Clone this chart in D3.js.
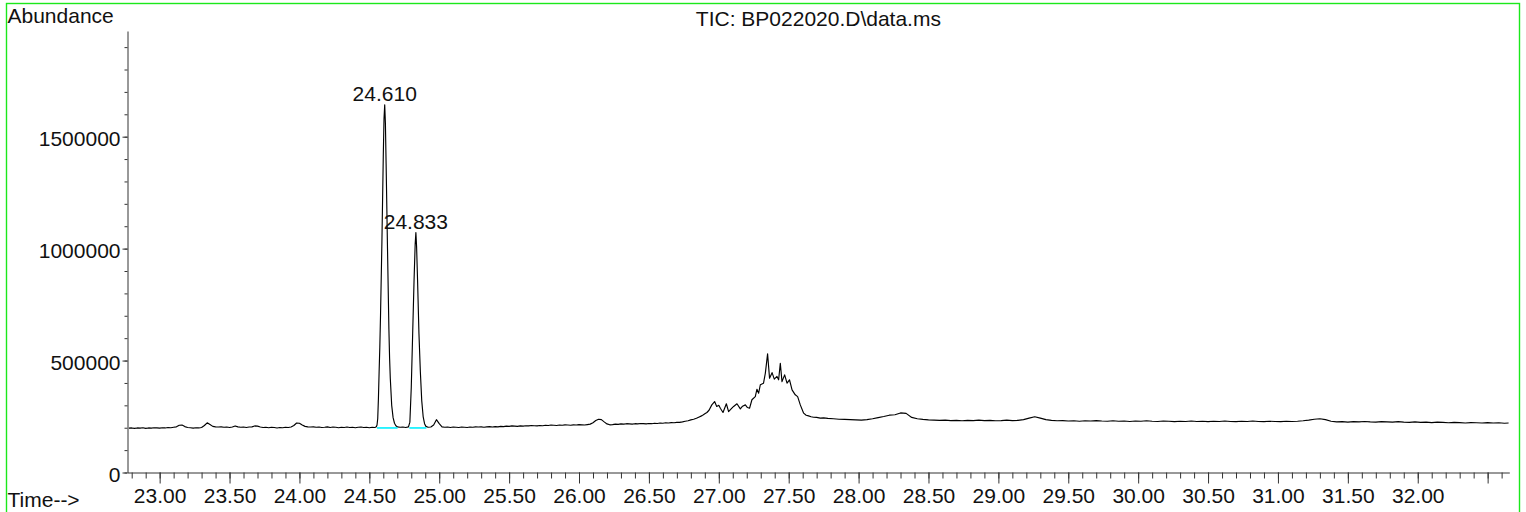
<!DOCTYPE html>
<html><head><meta charset="utf-8">
<script src="https://cdn.jsdelivr.net/npm/d3@7"></script>
<style>
html,body{margin:0;padding:0;background:#fff;}
svg{display:block;}
text{font-family:"Liberation Sans",Arial,Helvetica,sans-serif;fill:#111;}
</style>
</head><body>
<svg id="chart" width="1526" height="512"></svg>
<script>
// ---- Data (retention time in minutes, abundance) ----
const baselineLeft = [
[22.78,198000],[22.80,199000],[22.82,197000],[22.84,199000],[22.86,198000],[22.88,200000],[22.90,197000],[22.92,199000],[22.94,198000],[22.96,200000],
[22.98,199000],[23.00,198000],[23.02,200000],[23.04,199000],[23.06,201000],[23.08,200000],[23.10,202000],[23.12,204000],[23.14,211000],[23.16,212000],
[23.18,205000],[23.20,201000],[23.22,200000],[23.24,198000],[23.26,200000],[23.28,199000],[23.30,201000],[23.32,210000],[23.34,222000],[23.36,214000],
[23.38,206000],[23.40,204000],[23.42,203000],[23.44,204000],[23.46,202000],[23.48,203000],[23.50,201000],[23.52,203000],[23.54,208000],[23.56,204000],
[23.58,202000],[23.60,203000],[23.62,201000],[23.64,203000],[23.66,204000],[23.68,208000],[23.70,207000],[23.72,203000],[23.74,201000],[23.76,202000],
[23.78,200000],[23.80,202000],[23.82,201000],[23.84,199000],[23.86,201000],[23.88,200000],[23.90,202000],[23.92,201000],[23.94,203000],[23.96,210000],
[23.98,221000],[24.00,220000],[24.02,212000],[24.04,206000],[24.06,204000],[24.08,203000],[24.10,204000],[24.12,202000],[24.14,203000],[24.16,201000],
[24.18,202000],[24.20,204000],[24.22,201000],[24.24,203000],[24.26,202000],[24.28,200000],[24.30,202000],[24.32,201000],[24.34,203000],[24.36,201000],
[24.38,202000],[24.40,200000],[24.42,202000],[24.44,203000],[24.46,201000],[24.48,202000],[24.50,200000],[24.52,202000],[24.54,201000]
];
const peakRegion = [
[24.550,204000],[24.555,212000],[24.560,240000],[24.565,330000],[24.570,450000],[24.575,560000],[24.580,700000],[24.590,1030000],[24.600,1420000],
[24.605,1580000],[24.610,1642000],[24.615,1560000],[24.620,1380000],[24.630,1000000],[24.640,640000],[24.645,510000],[24.650,420000],[24.660,300000],
[24.670,245000],[24.680,220000],[24.690,209000],[24.700,204000],[24.720,202000],[24.740,203000],[24.760,201000],[24.780,204000],[24.790,225000],
[24.800,380000],[24.810,620000],[24.820,860000],[24.828,1020000],[24.833,1072000],[24.838,1010000],[24.845,860000],[24.855,620000],[24.865,450000],
[24.875,320000],[24.885,250000],[24.895,218000],[24.905,206000],[24.920,202000],[24.940,203000],[24.960,212000],[24.980,236000],[25.000,218000],
[25.020,204000],[25.040,202000],[25.060,203000],[25.080,201000],[25.100,203000]
];
const midBaseline = [
[25.12,202000],[25.14,201000],[25.16,203000],[25.18,202000],[25.20,201000],[25.22,203000],[25.24,202000],[25.26,204000],[25.28,203000],[25.30,204000],
[25.32,202000],[25.34,204000],[25.36,205000],[25.38,203000],[25.40,205000],[25.42,204000],[25.44,206000],[25.46,205000],[25.48,207000],[25.50,206000],
[25.52,208000],[25.54,207000],[25.56,206000],[25.58,208000],[25.60,207000],[25.62,209000],[25.64,208000],[25.66,210000],[25.68,209000],[25.70,208000],
[25.72,210000],[25.74,209000],[25.76,211000],[25.78,210000],[25.80,212000],[25.82,211000],[25.84,210000],[25.86,212000],[25.88,211000],[25.90,213000],
[25.92,212000],[25.94,211000],[25.96,213000],[25.98,212000],[26.00,214000],[26.02,213000],[26.04,212000],[26.06,214000],[26.08,216000],[26.10,222000],
[26.12,232000],[26.14,238000],[26.16,236000],[26.18,226000],[26.20,217000],[26.22,213000],[26.24,214000],[26.26,216000],[26.28,215000],[26.30,217000],
[26.32,216000],[26.34,218000],[26.36,217000],[26.38,216000],[26.40,218000],[26.42,217000],[26.44,219000],[26.46,218000],[26.48,217000],[26.50,219000],
[26.52,218000],[26.54,220000],[26.56,219000],[26.58,221000],[26.60,220000],[26.62,222000],[26.64,221000],[26.66,223000],[26.68,222000],[26.70,224000]
];
const humpRegion = [
[26.72,224000],[26.74,226000],[26.76,229000],[26.78,231000],[26.80,235000],[26.82,238000],[26.84,242000],[26.86,248000],[26.88,254000],[26.89,258000],
[26.90,262000],[26.915,268000],[26.93,278000],[26.95,302000],[26.97,317000],[26.985,295000],[27.00,300000],[27.011,287000],[27.03,268000],[27.054,307000],
[27.07,272000],[27.09,285000],[27.106,295000],[27.13,307000],[27.154,284000],[27.17,296000],[27.19,302000],[27.205,290000],[27.22,287000],[27.237,325000],
[27.261,339000],[27.273,372000],[27.285,354000],[27.297,392000],[27.32,399000],[27.333,444000],[27.349,530000],[27.363,421000],[27.381,446000],[27.397,417000],
[27.416,429000],[27.428,414000],[27.44,488000],[27.452,406000],[27.471,436000],[27.488,399000],[27.506,414000],[27.524,369000],[27.547,347000],[27.564,339000],
[27.583,302000],[27.607,265000],[27.625,256000],[27.642,253000],[27.66,249000],[27.678,247000],[27.70,246000],[27.726,243000],[27.75,244000]
];
const tailBaseline = [
[27.78,242000],[27.82,240000],[27.86,238000],[27.90,237000],[27.94,236000],[27.98,235000],[28.02,234000],[28.06,236000],[28.10,240000],[28.14,245000],
[28.18,250000],[28.22,256000],[28.26,258000],[28.30,266000],[28.34,264000],[28.38,246000],[28.42,240000],[28.46,237000],[28.50,235000],[28.54,234000],
[28.58,233000],[28.62,234000],[28.66,232000],[28.70,233000],[28.74,231000],[28.78,233000],[28.82,232000],[28.86,234000],[28.90,232000],[28.94,233000],
[28.98,231000],[29.02,232000],[29.06,234000],[29.10,232000],[29.14,233000],[29.18,236000],[29.22,243000],[29.26,249000],[29.30,243000],[29.34,236000],
[29.38,233000],[29.42,231000],[29.46,232000],[29.50,230000],[29.54,231000],[29.58,229000],[29.62,231000],[29.66,230000],[29.70,232000],[29.74,230000],
[29.78,229000],[29.82,231000],[29.86,229000],[29.90,230000],[29.94,228000],[29.98,230000],[30.02,229000],[30.06,231000],[30.10,229000],[30.14,228000],
[30.18,230000],[30.22,229000],[30.26,227000],[30.30,229000],[30.34,228000],[30.38,230000],[30.42,228000],[30.46,229000],[30.50,227000],[30.54,229000],
[30.58,228000],[30.62,230000],[30.66,228000],[30.70,227000],[30.74,229000],[30.78,228000],[30.82,230000],[30.86,228000],[30.90,227000],[30.94,229000],
[30.98,228000],[31.02,227000],[31.06,229000],[31.10,228000],[31.14,229000],[31.18,231000],[31.22,234000],[31.26,238000],[31.30,240000],[31.34,236000],
[31.38,229000],[31.42,226000],[31.46,227000],[31.50,225000],[31.54,227000],[31.58,226000],[31.62,228000],[31.66,226000],[31.70,225000],[31.74,227000],
[31.78,226000],[31.82,225000],[31.86,227000],[31.90,225000],[31.94,224000],[31.98,226000],[32.02,224000],[32.06,225000],[32.10,223000],[32.14,225000],
[32.18,224000],[32.22,222000],[32.26,224000],[32.30,223000],[32.34,221000],[32.38,223000],[32.42,222000],[32.46,221000],[32.50,223000],[32.54,221000],
[32.58,222000],[32.62,220000],[32.65,221000]
];
const peakLabels = [
  {rt:24.610, abundance:1642000, label:"24.610"},
  {rt:24.833, abundance:1072000, label:"24.833"}
];
const integrationBaselines = [
  {start:24.555, end:24.702, level:199000},
  {start:24.786, end:24.908, level:199000}
];
const xMajorTicks = [23.0,23.5,24.0,24.5,25.0,25.5,26.0,26.5,27.0,27.5,28.0,28.5,29.0,29.5,30.0,30.5,31.0,31.5,32.0,32.5];
const xTickLabels = ["23.00","23.50","24.00","24.50","25.00","25.50","26.00","26.50","27.00","27.50","28.00","28.50","29.00","29.50","30.00","30.50","31.00","31.50","32.00",""];
const xMinorTicks = d3.range(228, 327).map(d => d / 10);
const yMajorTicks = [0, 500000, 1000000, 1500000];
const yTickLabels = ["0","500000","1000000","1500000"];
const yMinorTicks = d3.range(0, 20).map(d => d * 100000);
const timeDomain = [22.77, 32.655];
const abundanceDomain = [0, 1972000];

// ---- Drawing ----
const svg = d3.select("#chart");
const x = d3.scaleLinear().domain(timeDomain).range([127.5, 1509.3]);
const y = d3.scaleLinear().domain(abundanceDomain).range([472.5, 31]);
const axisColor = "#333";

// frame
svg.append("rect").attr("x", 6.5).attr("y", 3.5).attr("width", 1513).attr("height", 530)
  .attr("fill", "none").attr("stroke", "#1be81b").attr("stroke-width", 1.4);

// y axis minor
const gyMinor = svg.append("g").attr("transform", `translate(${x(timeDomain[0])},0)`)
  .call(d3.axisLeft(y).tickValues(yMinorTicks).tickSize(3).tickSizeOuter(0).tickFormat(""));
gyMinor.select(".domain").remove();
gyMinor.selectAll("line").attr("stroke", axisColor);
// y axis major
const gy = svg.append("g").attr("transform", `translate(${x(timeDomain[0])},0)`)
  .call(d3.axisLeft(y).tickValues(yMajorTicks).tickSize(5).tickSizeOuter(0).tickPadding(2)
    .tickFormat((d, i) => yTickLabels[i]));
gy.select(".domain").attr("stroke", axisColor);
gy.selectAll("line").attr("stroke", axisColor);
gy.selectAll("text").attr("font-size", 21).attr("dy", "0.43em").attr("fill", "#111")
  .attr("font-family", '"Liberation Sans",Arial,sans-serif');

// x axis minor
const gxMinor = svg.append("g").attr("transform", `translate(0,${y(0)})`)
  .call(d3.axisBottom(x).tickValues(xMinorTicks).tickSize(6).tickSizeOuter(0).tickFormat(""));
gxMinor.select(".domain").remove();
gxMinor.selectAll("line").attr("stroke", axisColor);
// x axis major
const gx = svg.append("g").attr("transform", `translate(0,${y(0)})`)
  .call(d3.axisBottom(x).tickValues(xMajorTicks).tickSize(11).tickSizeOuter(0).tickPadding(5)
    .tickFormat((d, i) => xTickLabels[i]));
gx.select(".domain").attr("stroke", axisColor);
gx.selectAll("line").attr("stroke", axisColor);
gx.selectAll("text").attr("font-size", 21).attr("fill", "#111")
  .attr("font-family", '"Liberation Sans",Arial,sans-serif');

// chromatogram trace
const trace = [...baselineLeft, ...peakRegion, ...midBaseline, ...humpRegion, ...tailBaseline];
svg.append("path").datum(trace)
  .attr("fill", "none").attr("stroke", "#000").attr("stroke-width", 1.15)
  .attr("stroke-linejoin", "round")
  .attr("d", d3.line().x(d => x(d[0])).y(d => y(d[1])));

// integration baselines
svg.selectAll("line.intbase").data(integrationBaselines).enter().append("line")
  .attr("class", "intbase")
  .attr("x1", d => x(d.start)).attr("x2", d => x(d.end))
  .attr("y1", d => y(d.level)).attr("y2", d => y(d.level))
  .attr("stroke", "#00f0ff").attr("stroke-width", 1.6);

// peak labels
svg.selectAll("text.peak").data(peakLabels).enter().append("text")
  .attr("class", "peak")
  .attr("x", d => x(d.rt)).attr("y", d => y(d.abundance) - 3.5)
  .attr("text-anchor", "middle").attr("font-size", 21).text(d => d.label);

// titles
svg.append("text").attr("x", 7.5).attr("y", 22.7).attr("font-size", 21).text("Abundance");
svg.append("text").attr("x", 7.5).attr("y", 507).attr("font-size", 21).text("Time-->");
svg.append("text").attr("x", (x.range()[0] + x.range()[1]) / 2).attr("y", 26)
  .attr("text-anchor", "middle").attr("font-size", 21).text("TIC: BP022020.D\\data.ms");
</script>
</body></html>
